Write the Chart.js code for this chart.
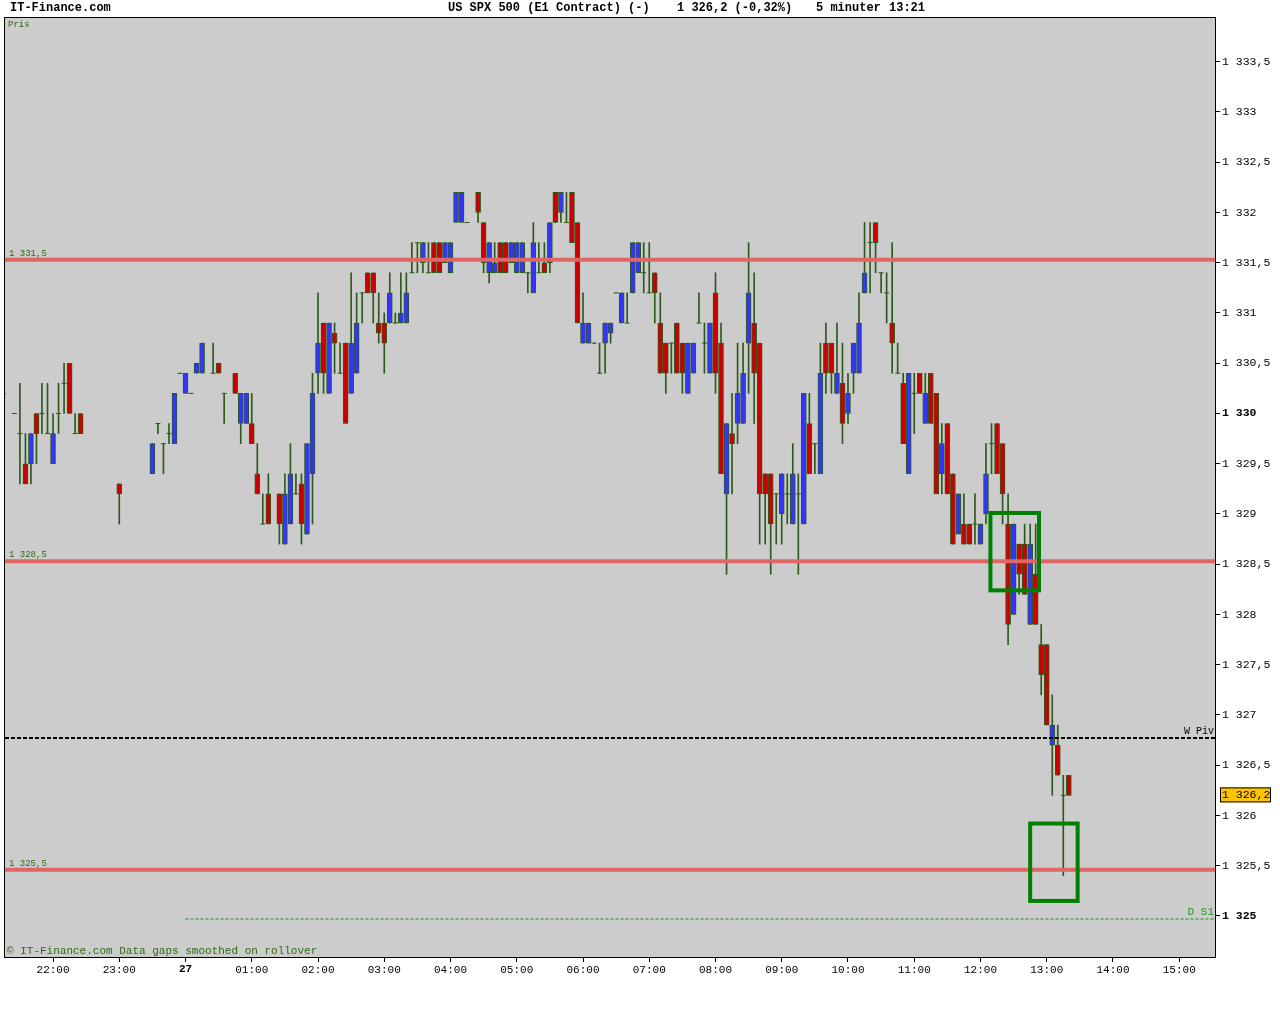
<!DOCTYPE html>
<html lang="en">
  <head>
    <meta charset="UTF-8" />
    <title>US SPX 500 - 5 minuter</title>
    <style>
      body { margin: 0; background: #fff; }
      #chart { display: block; }
    </style>
  </head>
  <body>
    <canvas id="chart" width="1280" height="1024"></canvas>

    <script src="https://cdn.jsdelivr.net/npm/chart.js@4.4.1/dist/chart.umd.min.js"></script>
    <script>
      // 5 minute bars, times before 21:00 belong to the 27th
      const times = [
        "21:15","21:25","21:30","21:35","21:40","21:45","21:50","21:55","22:00","22:05","22:10","22:15","22:20","22:25",
        "23:00","23:30","23:35","23:40","23:45","23:50","23:55",
        "00:00","00:05","00:10","00:15","00:25","00:30","00:35","00:45","00:50","00:55",
        "01:00","01:05","01:10","01:15","01:25","01:30","01:35","01:40","01:45","01:50","01:55",
        "02:00","02:05","02:10","02:15","02:20","02:25","02:30","02:35","02:40","02:45","02:50","02:55",
        "03:00","03:05","03:10","03:15","03:20","03:25","03:30","03:35","03:40","03:45","03:50","03:55",
        "04:00","04:05","04:10","04:15","04:25","04:30","04:35","04:40","04:45","04:50","04:55",
        "05:00","05:05","05:10","05:15","05:20","05:25","05:30","05:35","05:40","05:45","05:50","05:55",
        "06:00","06:05","06:10","06:15","06:20","06:25","06:30","06:35","06:40","06:45","06:50","06:55",
        "07:00","07:05","07:10","07:15","07:20","07:25","07:30","07:35","07:40","07:45","07:50","07:55",
        "08:00","08:05","08:10","08:15","08:20","08:25","08:30","08:35","08:40","08:45","08:50","08:55",
        "09:00","09:05","09:10","09:15","09:20","09:25","09:30","09:35","09:40","09:45","09:50","09:55",
        "10:00","10:05","10:10","10:15","10:20","10:25","10:30","10:35","10:40","10:45","10:50","10:55",
        "11:00","11:05","11:10","11:15","11:20","11:25","11:30","11:35","11:40","11:45","11:50","11:55",
        "12:00","12:05","12:10","12:15","12:20","12:25","12:30","12:35","12:40","12:45","12:50","12:55",
        "13:00","13:05","13:10","13:15","13:20"
      ];
      const opens = [
        1330.2,1330.0,1329.8,1329.5,1329.5,1330.0,1330.0,1329.8,1329.5,1330.0,1330.3,1330.5,1329.8,1330.0,
        1329.3,1329.4,1329.9,1329.7,1329.8,1329.7,1330.4,
        1330.2,1330.2,1330.4,1330.4,1330.4,1330.5,1330.2,1330.4,1329.9,1329.9,
        1329.9,1329.4,1328.9,1329.2,1329.2,1328.7,1328.9,1329.2,1329.3,1328.8,1329.4,
        1330.4,1330.9,1330.2,1330.8,1330.4,1330.7,1330.2,1330.4,1331.2,1331.4,1331.4,1330.9,
        1330.9,1330.9,1330.9,1330.9,1330.9,1331.4,1331.7,1331.5,1331.4,1331.7,1331.7,1331.5,
        1331.4,1331.9,1331.9,1331.9,1332.2,1331.9,1331.4,1331.4,1331.7,1331.7,1331.5,
        1331.4,1331.4,1331.4,1331.2,1331.4,1331.5,1331.5,1332.2,1332.0,1331.9,1332.2,1331.9,
        1330.7,1330.7,1330.7,1330.4,1330.7,1330.8,1331.2,1330.9,1330.9,1331.2,1331.4,1331.4,
        1331.2,1331.4,1330.9,1330.7,1330.7,1330.9,1330.7,1330.2,1330.4,1330.9,1330.7,1330.4,
        1331.2,1330.7,1329.2,1329.8,1329.9,1329.9,1330.7,1330.9,1330.7,1329.4,1329.4,1329.2,
        1329.0,1329.2,1328.9,1329.2,1328.9,1329.9,1329.7,1329.4,1330.7,1330.7,1330.2,1330.3,
        1330.0,1330.4,1330.4,1331.2,1331.7,1331.9,1331.4,1331.2,1330.9,1330.4,1330.3,1329.4,
        1330.2,1330.4,1329.9,1330.4,1330.2,1329.4,1329.9,1329.4,1328.8,1328.9,1328.9,1328.9,
        1328.7,1329.0,1329.7,1329.9,1329.7,1328.9,1328.0,1328.7,1328.7,1327.9,1328.4,1327.7,
        1327.7,1326.7,1326.7,1326.2,1326.4
      ];
      const highs = [
        1330.2,1330.0,1330.3,1329.8,1329.8,1330.0,1330.3,1330.3,1330.0,1330.3,1330.5,1330.5,1330.0,1330.0,
        1329.3,1329.7,1329.9,1329.7,1329.9,1330.2,1330.4,
        1330.4,1330.2,1330.5,1330.7,1330.7,1330.5,1330.2,1330.4,1330.2,1330.2,
        1330.2,1329.7,1329.2,1329.4,1329.2,1329.4,1329.7,1329.4,1329.4,1329.7,1330.4,
        1331.2,1330.9,1330.9,1330.9,1330.7,1330.7,1331.4,1331.2,1331.2,1331.4,1331.4,1331.2,
        1331.0,1331.4,1331.0,1331.4,1331.4,1331.7,1331.7,1331.7,1331.7,1331.7,1331.7,1331.7,
        1331.7,1332.2,1332.2,1331.9,1332.2,1331.9,1331.7,1331.7,1331.7,1331.7,1331.7,
        1331.7,1331.7,1331.4,1331.9,1331.7,1331.7,1331.9,1332.2,1332.2,1332.2,1332.2,1331.9,
        1331.2,1330.9,1330.7,1330.7,1330.9,1330.9,1331.2,1331.2,1331.2,1331.7,1331.7,1331.7,
        1331.7,1331.4,1331.2,1330.7,1330.7,1330.9,1330.7,1330.7,1330.7,1331.2,1330.9,1330.9,
        1331.4,1330.9,1329.9,1330.2,1330.7,1330.7,1331.7,1331.4,1330.7,1329.4,1329.4,1329.2,
        1329.4,1329.4,1329.7,1329.4,1330.2,1330.2,1329.7,1330.7,1330.9,1330.7,1330.9,1330.7,
        1330.4,1330.7,1331.2,1331.9,1331.9,1331.9,1331.4,1331.4,1331.7,1330.7,1330.4,1330.4,
        1330.4,1330.4,1330.4,1330.4,1330.2,1329.9,1329.9,1329.4,1329.2,1329.2,1328.9,1329.2,
        1328.9,1329.7,1329.9,1329.9,1329.7,1329.2,1328.9,1328.7,1328.9,1328.9,1328.9,1327.9,
        1327.7,1327.2,1326.9,1326.4,1326.4
      ];
      const lows = [
        1330.2,1330.0,1329.3,1329.3,1329.3,1329.5,1329.8,1329.8,1329.5,1329.8,1330.0,1330.0,1329.8,1329.8,
        1328.9,1329.4,1329.8,1329.4,1329.7,1329.7,1330.4,
        1330.2,1330.2,1330.4,1330.4,1330.4,1330.4,1329.9,1330.2,1329.7,1329.9,
        1329.7,1329.2,1328.9,1328.9,1328.7,1328.7,1328.9,1329.2,1328.7,1328.8,1328.9,
        1330.2,1330.2,1330.2,1330.4,1330.4,1329.9,1330.2,1330.4,1330.9,1331.2,1330.9,1330.7,
        1330.4,1330.9,1330.9,1330.9,1330.9,1331.4,1331.4,1331.4,1331.4,1331.4,1331.4,1331.5,
        1331.4,1331.9,1331.9,1331.9,1331.9,1331.4,1331.3,1331.4,1331.4,1331.4,1331.5,
        1331.4,1331.4,1331.2,1331.2,1331.4,1331.4,1331.4,1331.9,1331.9,1331.9,1331.7,1330.9,
        1330.7,1330.7,1330.7,1330.4,1330.4,1330.7,1331.2,1330.9,1330.9,1331.2,1331.4,1331.2,
        1331.2,1330.9,1330.4,1330.2,1330.4,1330.4,1330.2,1330.2,1330.4,1330.9,1330.4,1330.4,
        1330.2,1329.4,1328.4,1329.2,1329.7,1329.9,1330.2,1329.9,1328.7,1328.7,1328.4,1328.7,
        1328.7,1328.9,1328.9,1328.4,1328.9,1329.4,1329.4,1329.4,1330.2,1330.2,1330.2,1329.7,
        1329.9,1330.2,1330.4,1331.2,1331.2,1331.4,1331.2,1330.9,1330.4,1330.4,1329.7,1329.4,
        1329.8,1330.2,1329.9,1329.9,1329.2,1329.2,1329.2,1328.7,1328.8,1328.7,1328.7,1328.7,
        1328.7,1328.9,1329.4,1329.4,1328.9,1327.7,1328.0,1328.2,1328.2,1327.9,1327.9,1327.2,
        1326.9,1326.2,1326.4,1325.4,1326.2
      ];
      const closes = [
        1330.2,1330.0,1329.8,1329.3,1329.8,1329.8,1330.0,1329.8,1329.8,1330.0,1330.3,1330.0,1329.8,1329.8,
        1329.2,1329.7,1329.9,1329.7,1329.8,1330.2,1330.4,
        1330.4,1330.2,1330.5,1330.7,1330.4,1330.4,1330.2,1330.2,1330.2,1330.2,
        1329.7,1329.2,1328.9,1328.9,1328.9,1329.2,1329.4,1329.2,1328.9,1329.7,1330.2,
        1330.7,1330.4,1330.9,1330.7,1330.4,1329.9,1330.7,1330.9,1331.2,1331.2,1331.2,1330.8,
        1330.7,1331.2,1330.9,1331.0,1331.2,1331.4,1331.7,1331.7,1331.4,1331.4,1331.4,1331.7,
        1331.7,1332.2,1332.2,1331.9,1332.0,1331.5,1331.7,1331.5,1331.4,1331.4,1331.7,
        1331.7,1331.7,1331.4,1331.7,1331.4,1331.4,1331.9,1331.9,1332.2,1331.9,1331.7,1330.9,
        1330.9,1330.9,1330.7,1330.4,1330.9,1330.9,1331.2,1331.2,1330.9,1331.7,1331.7,1331.4,
        1331.2,1331.2,1330.4,1330.4,1330.7,1330.4,1330.4,1330.7,1330.7,1330.9,1330.7,1330.9,
        1330.4,1329.4,1329.9,1329.7,1330.2,1330.4,1331.2,1330.4,1329.2,1329.2,1328.9,1329.2,
        1329.4,1329.2,1329.4,1329.2,1330.2,1329.4,1329.7,1330.4,1330.4,1330.4,1330.4,1329.9,
        1330.2,1330.7,1330.9,1331.4,1331.7,1331.7,1331.4,1331.2,1330.7,1330.4,1329.7,1330.4,
        1330.2,1330.2,1330.2,1329.9,1329.2,1329.7,1329.2,1328.7,1329.2,1328.7,1328.7,1328.9,
        1328.9,1329.4,1329.7,1329.4,1329.2,1327.9,1328.9,1328.4,1328.2,1328.7,1327.9,1327.4,
        1326.9,1326.9,1326.4,1326.2,1326.2
      ];

      // reference levels drawn over the bars
      const levelValues = [1331.53, 1328.53, 1325.46];
      const levelLabels = ["1 331,5", "1 328,5", "1 325,5"];
      const weeklyPivot = 1326.77;
      const dailyS1 = 1324.97;
      const boxes = [
        { x0: 729, x1: 773, y0: 1329.01, y1: 1328.24 },
        { x0: 765, x1: 808, y0: 1325.92, y1: 1325.15 },
      ];

      const BLUE = "#3434ff";
      const RED = "#cc0000";
      const EDGE = "#2d5a1c";
      const TXT_GREEN = "#2f6a12";
      const MONO = "'Liberation Mono', 'DejaVu Sans Mono', monospace";

      function toMin(s) {
        const [h, m] = s.split(":").map(Number);
        let v = h * 60 + m;
        if (h >= 21) v -= 1440;
        return v;
      }

      function priceText(v) {
        const r = Math.round(v * 10) / 10;
        let s = (r - 1000).toFixed(1).replace(".", ",");
        if (s.endsWith(",0")) s = s.slice(0, -2);
        return "1 " + s;
      }

      const wicks = [];
      const bodies = [];
      const dojis = [];
      times.forEach((t, i) => {
        const x = toMin(t);
        wicks.push({ x: x, y: [lows[i], highs[i]] });
        if (opens[i] === closes[i]) dojis.push({ x: x, y: opens[i] });
        else bodies.push({ x: x, y: [opens[i], closes[i]] });
      });

      function hline(ctx, x0, x1, y) {
        ctx.beginPath();
        ctx.moveTo(x0, y);
        ctx.lineTo(x1, y);
        ctx.stroke();
      }

      const overlay = {
        id: "overlay",
        beforeDraw(chart) {
          const { ctx, chartArea: a } = chart;
          ctx.save();
          ctx.fillStyle = "#ffffff";
          ctx.fillRect(0, 0, chart.width, chart.height);
          ctx.fillStyle = "#cccccc";
          ctx.fillRect(a.left, a.top, a.right - a.left, a.bottom - a.top);
          ctx.restore();
        },
        afterDatasetsDraw(chart) {
          const { ctx, chartArea: a, scales } = chart;
          const x = scales.x, y = scales.y;
          ctx.save();
          ctx.beginPath();
          ctx.rect(a.left, a.top, a.right - a.left, a.bottom - a.top);
          ctx.clip();

          // red levels
          levelValues.forEach((v, i) => {
            const py = y.getPixelForValue(v);
            ctx.strokeStyle = "#e06666";
            ctx.lineWidth = 4;
            hline(ctx, a.left, a.right, py);
            ctx.fillStyle = TXT_GREEN;
            ctx.font = "9px " + MONO;
            ctx.textBaseline = "alphabetic";
            ctx.fillText(levelLabels[i], a.left + 4, py - 4);
          });

          // weekly pivot
          let py = y.getPixelForValue(weeklyPivot);
          ctx.strokeStyle = "#000";
          ctx.lineWidth = 2;
          ctx.setLineDash([4, 2]);
          hline(ctx, a.left, a.right, py);
          ctx.setLineDash([]);
          ctx.fillStyle = "#000";
          ctx.font = "10px " + MONO;
          ctx.textAlign = "right";
          ctx.fillText("W Piv", a.right - 1, py - 4);

          // daily S1 from the start of the day
          py = y.getPixelForValue(dailyS1);
          ctx.strokeStyle = "#1f8a1f";
          ctx.lineWidth = 1;
          ctx.setLineDash([3, 2]);
          hline(ctx, x.getPixelForValue(0), a.right, py);
          ctx.setLineDash([]);
          ctx.fillStyle = "#1f9a1f";
          ctx.font = "11px " + MONO;
          ctx.fillText("D S1", a.right - 1, py - 4);
          ctx.textAlign = "left";

          // green boxes
          ctx.strokeStyle = "#008000";
          ctx.lineWidth = 4;
          boxes.forEach((b) => {
            const l = x.getPixelForValue(b.x0), r = x.getPixelForValue(b.x1);
            const t = y.getPixelForValue(b.y0), bt = y.getPixelForValue(b.y1);
            ctx.strokeRect(l, t, r - l, bt - t);
          });

          ctx.fillStyle = TXT_GREEN;
          ctx.font = "9px " + MONO;
          ctx.fillText("Pris", a.left + 3, a.top + 9);
          ctx.font = "11px " + MONO;
          ctx.fillText("\u00a9 IT-Finance.com Data gaps smoothed on rollover", a.left + 2, a.bottom - 3);
          ctx.restore();
        },
        afterDraw(chart) {
          const { ctx, chartArea: a, scales } = chart;
          ctx.save();
          ctx.strokeStyle = "#000";
          ctx.lineWidth = 1;
          ctx.strokeRect(a.left - 0.5, a.top - 0.5, a.right - a.left + 1, a.bottom - a.top + 1);

          // header
          ctx.fillStyle = "#000";
          ctx.font = "bold 12px " + MONO;
          ctx.textBaseline = "middle";
          ctx.fillText("IT-Finance.com", 10, 8);
          ctx.fillText("US SPX 500 (E1 Contract)", 448, 8);
          ctx.fillText("(-)", 628, 8);
          ctx.fillText(priceText(closes[closes.length - 1]) + " (-0,32%)", 677, 8);
          ctx.fillText("5 minuter", 816, 8);
          ctx.fillText("13:21", 889, 8);

          // last price tag
          const py = scales.y.getPixelForValue(closes[closes.length - 1]);
          ctx.fillStyle = "#ffc400";
          ctx.fillRect(a.right + 5, py - 8, 51, 15);
          ctx.strokeRect(a.right + 5.5, py - 7.5, 50, 14);
          ctx.fillStyle = "#000";
          ctx.font = "11.5px " + MONO;
          ctx.fillText(priceText(closes[closes.length - 1]), a.right + 7, py);
          ctx.restore();
        },
      };

      const ctx = document.getElementById("chart").getContext("2d");
      new Chart(ctx, {
        type: "bar",
        data: {
          datasets: [
            {
              label: "wick",
              data: wicks,
              grouped: false,
              barThickness: 1,
              backgroundColor: EDGE,
              borderWidth: 0,
              order: 3,
            },
            {
              label: "body",
              data: bodies,
              grouped: false,
              barThickness: 5,
              backgroundColor: (c) => {
                const r = c.raw;
                return r && r.y[1] > r.y[0] ? BLUE : RED;
              },
              borderColor: EDGE,
              borderWidth: 1,
              borderSkipped: false,
              order: 2,
            },
            {
              type: "line",
              label: "doji",
              data: dojis,
              showLine: false,
              pointStyle: "line",
              pointRadius: 2.5,
              pointBorderWidth: 1,
              pointBorderColor: EDGE,
              order: 1,
            },
          ],
        },
        options: {
          responsive: false,
          animation: false,
          layout: { padding: { left: 3, top: 18, right: 0, bottom: 0 } },
          plugins: { legend: { display: false }, tooltip: { enabled: false } },
          scales: {
            x: {
              type: "linear",
              min: -163.5,
              max: 932.4,
              offset: false,
              afterFit: (s) => { s.height = 67; },
              grid: { drawOnChartArea: false, offset: false, color: "#000", tickLength: 5 },
              border: { display: true, color: "#000" },
              ticks: {
                stepSize: 60,
                includeBounds: false,
                autoSkip: false,
                maxRotation: 0,
                padding: 1,
                color: "#000",
                font: (c) => ({
                  family: MONO,
                  size: 11,
                  weight: c.tick && c.tick.value === 0 ? "bold" : "normal",
                }),
                callback: (v) => {
                  if (v === 0) return "27";
                  const h = ((Math.floor(v / 60) % 24) + 24) % 24;
                  return String(h).padStart(2, "0") + ":00";
                },
              },
            },
            y: {
              position: "right",
              min: 1324.592,
              max: 1333.935,
              afterFit: (s) => { s.width = 65; },
              grid: { drawOnChartArea: false, color: "#000", tickLength: 5 },
              border: { display: true, color: "#000" },
              ticks: {
                stepSize: 0.5,
                includeBounds: false,
                padding: 2,
                color: "#000",
                font: (c) => ({
                  family: MONO,
                  size: 11.5,
                  weight: c.tick && (c.tick.value === 1330 || c.tick.value === 1325) ? "bold" : "normal",
                }),
                callback: (v) => priceText(v),
              },
            },
          },
        },
        plugins: [overlay],
      });
    </script>
  </body>
</html>
